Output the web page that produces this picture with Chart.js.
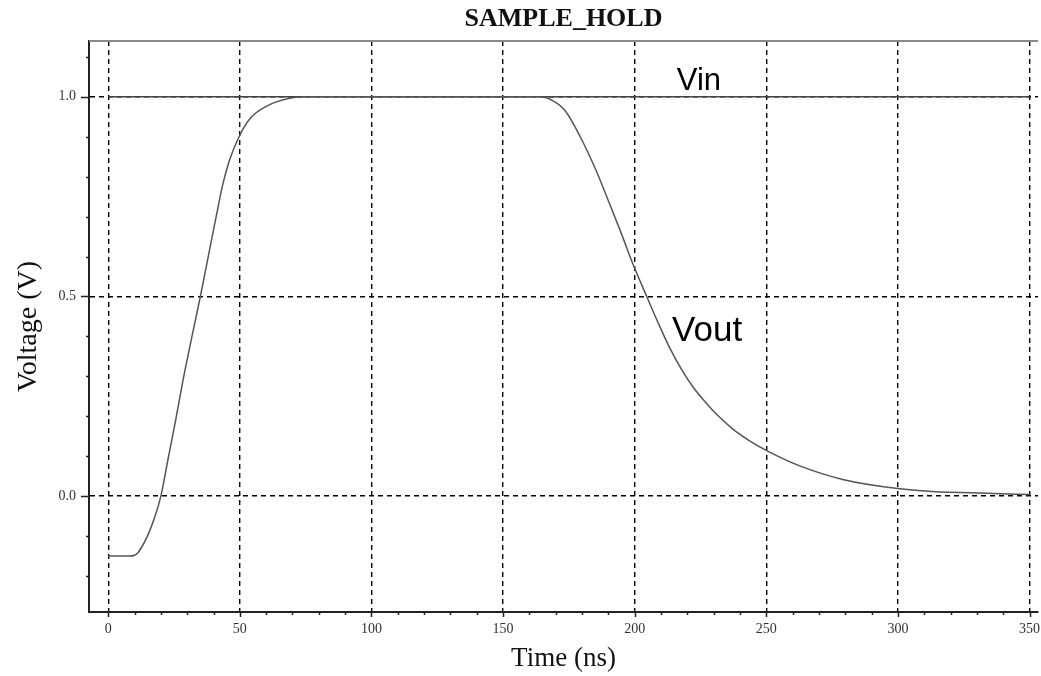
<!DOCTYPE html>
<html>
<head>
<meta charset="utf-8">
<title>SAMPLE_HOLD</title>
<script src="https://cdn.jsdelivr.net/npm/chart.js@4.4.0/dist/chart.umd.min.js"></script>
<style>
  html, body { margin: 0; padding: 0; background: #fff; }
  #wrap { position: relative; width: 1041px; height: 676px; }
</style>
</head>
<body>
<div id="wrap"><canvas id="sampleHold"></canvas></div>
<script>
// time axis (ns) and voltages
const vinTime = [0, 350];
const vinVolts = [1.0, 1.0];

const voutTime = [
  0, 8, 10, 11.2, 12.4, 14.9, 17.4, 20, 22.5, 25.6, 28.4, 31.5, 35, 38, 41, 43.5, 46, 49.7,
  54.2, 60.6, 68, 74.3, 164, 169, 173.6, 179.3, 185.7, 189.5, 194.5, 199.4, 204.7,
  208.5, 213.4, 218, 222.3, 227.3, 231.1, 237.3, 243.8, 250.5, 262.7, 279, 300, 313,
  336, 350,
];
const voutVolts = [
  -0.15, -0.15, -0.148, -0.142, -0.131, -0.1, -0.058, 0.0, 0.085, 0.19, 0.29, 0.39, 0.5,
  0.6, 0.7, 0.78, 0.84, 0.9, 0.948, 0.978, 0.995, 1.0, 1.0, 0.99, 0.965, 0.9, 0.81, 0.748,
  0.665, 0.58, 0.498, 0.44, 0.37, 0.315, 0.272, 0.232, 0.205, 0.168, 0.138, 0.113, 0.076,
  0.042, 0.019, 0.012, 0.007, 0.004,
];

const xMajorTicks = [0, 50, 100, 150, 200, 250, 300, 350];
const yMajorTicks = [0.0, 0.5, 1.0];

// curve names written next to the traces (anchor in data units)
const curveLabels = ["Vin", "Vout"];
const curveLabelTime = [216, 214.2];
const curveLabelVolts = [1.0175, 0.3875];
const curveLabelSize = [31, 35];

const SERIF = "'Liberation Serif', 'Times New Roman', serif";
const SANS = "'Liberation Sans', Arial, sans-serif";

function toPoints(xs, ys) {
  return xs.map((x, i) => ({ x: x, y: ys[i] }));
}

function isMajorX(v) {
  return xMajorTicks.some(m => Math.abs(m - v) < 1e-6);
}
function isMajorY(v) {
  return yMajorTicks.some(m => Math.abs(m - v) < 1e-6);
}

// small tick marks outside the axes, long ones for the labelled values
const tickMarks = {
  id: "tickMarks",
  afterDraw(chart) {
    const { ctx, chartArea, scales } = chart;
    ctx.save();
    ctx.strokeStyle = "#222";
    ctx.lineWidth = 1.5;
    ctx.beginPath();
    scales.x.ticks.forEach(t => {
      const px = Math.round(scales.x.getPixelForValue(t.value)) + 0.5;
      const len = isMajorX(t.value) ? 5 : 3;
      ctx.moveTo(px, chartArea.bottom);
      ctx.lineTo(px, chartArea.bottom + len);
    });
    scales.y.ticks.forEach(t => {
      const py = Math.round(scales.y.getPixelForValue(t.value)) + 0.5;
      const len = isMajorY(t.value) ? 8 : 3;
      ctx.moveTo(chartArea.left, py);
      ctx.lineTo(chartArea.left - len, py);
    });
    ctx.stroke();

    // grey frame line along the top of the plot
    ctx.strokeStyle = "#8a8a8a";
    ctx.lineWidth = 2;
    ctx.beginPath();
    ctx.moveTo(chartArea.left, chartArea.top);
    ctx.lineTo(chartArea.right, chartArea.top);
    ctx.stroke();
    ctx.restore();
  },
};

const curveNames = {
  id: "curveNames",
  afterDatasetsDraw(chart) {
    const { ctx, scales } = chart;
    ctx.save();
    ctx.fillStyle = "#000";
    ctx.textAlign = "left";
    ctx.textBaseline = "alphabetic";
    curveLabels.forEach((text, i) => {
      ctx.font = curveLabelSize[i] + "px " + SANS;
      ctx.fillText(
        text,
        scales.x.getPixelForValue(curveLabelTime[i]),
        scales.y.getPixelForValue(curveLabelVolts[i]),
      );
    });
    ctx.restore();
  },
};

const chartConfig = {
  type: "line",
  data: {
    datasets: [
      {
        label: "Vout",
        data: toPoints(voutTime, voutVolts),
        borderColor: "#555",
        borderWidth: 1.5,
        pointRadius: 0,
        cubicInterpolationMode: "monotone",
        fill: false,
      },
      {
        label: "Vin",
        data: toPoints(vinTime, vinVolts),
        borderColor: "#444",
        borderWidth: 1.5,
        pointRadius: 0,
        fill: false,
      },
    ],
  },
  options: {
    animation: false,
    responsive: true,
    maintainAspectRatio: false,
    layout: {
      padding: { left: 0, right: 3, top: 0, bottom: 0 },
    },
    scales: {
      x: {
        type: "linear",
        min: -7.3,
        max: 353.2,
        afterFit: scale => {
          scale.height = 64;
          // let the last label hang into the right margin
          scale.paddingLeft = 0;
          scale.paddingRight = 0;
        },
        ticks: {
          stepSize: 10,
          includeBounds: false,
          autoSkip: false,
          maxRotation: 0,
          padding: 9,
          color: "#333",
          font: { family: SERIF, size: 14 },
          callback: v => (isMajorX(v) ? String(Math.round(v)) : ""),
        },
        grid: {
          drawTicks: false,
          lineWidth: 1.4,
          color: c => (c.tick && isMajorX(c.tick.value) ? "#000" : "rgba(0,0,0,0)"),
        },
        border: { display: true, color: "#222", width: 2, dash: [5, 4] },
        title: {
          display: true,
          text: "Time (ns)",
          color: "#111",
          font: { family: SERIF, size: 27 },
          padding: { top: 0, bottom: 1 },
        },
      },
      y: {
        min: -0.29,
        max: 1.14,
        afterFit: scale => {
          scale.width = 89;
        },
        ticks: {
          stepSize: 0.1,
          includeBounds: false,
          autoSkip: false,
          padding: 13,
          color: "#333",
          font: { family: SERIF, size: 14 },
          callback: v => (isMajorY(v) ? Number(v).toFixed(1) : ""),
        },
        grid: {
          drawTicks: false,
          lineWidth: 1.4,
          color: c => (c.tick && isMajorY(c.tick.value) ? "#000" : "rgba(0,0,0,0)"),
        },
        border: { display: true, color: "#222", width: 2, dash: [5, 4] },
        title: {
          display: true,
          text: "Voltage (V)",
          color: "#111",
          font: { family: SERIF, size: 28 },
          padding: { top: 12, bottom: 0 },
        },
      },
    },
    plugins: {
      legend: { display: false },
      tooltip: { enabled: false },
      title: {
        display: true,
        fullSize: false,
        text: "SAMPLE_HOLD",
        color: "#111",
        font: { family: SERIF, size: 26, weight: "bold", lineHeight: 1.15 },
        padding: { top: 4, bottom: 7 },
      },
    },
  },
  plugins: [tickMarks, curveNames],
};

const ctx = document.getElementById("sampleHold");
const sampleHoldChart = new Chart(ctx, chartConfig);
</script>
</body>
</html>
